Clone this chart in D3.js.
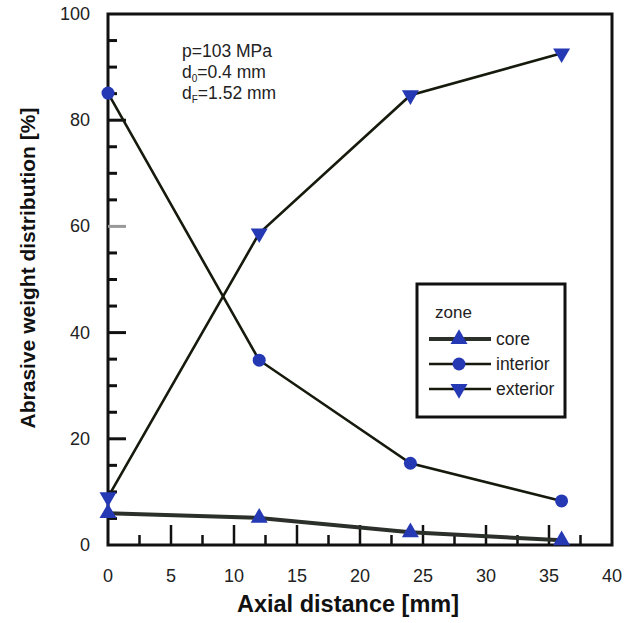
<!DOCTYPE html>
<html>
<head>
<meta charset="utf-8">
<script src="https://cdn.jsdelivr.net/npm/d3@7"></script>
<style>
  body { margin: 0; background: #fff; }
  svg text { font-family: "Liberation Sans", Arial, sans-serif; }
</style>
</head>
<body>
<div id="chart"></div>
<script>
// data
const distances = [0, 12, 24, 36];
const coreValues = [6.0, 5.1, 2.4, 0.9];
const interiorValues = [85.1, 34.8, 15.4, 8.3];
const exteriorValues = [9.0, 58.7, 84.7, 92.6];
const zoneNames = ['core', 'interior', 'exterior'];
const xTickValues = [0, 5, 10, 15, 20, 25, 30, 35, 40];
const yTickValues = [0, 20, 40, 60, 80, 100];
const annotationLines = ['p=103 MPa', 'd0=0.4 mm', 'dF=1.52 mm'];

const width = 634, height = 623;
const margin = { left: 108, right: 22, top: 14, bottom: 78 };

const svg = d3.select('#chart').append('svg')
    .attr('width', width)
    .attr('height', height);

const x = d3.scaleLinear().domain([0, 40]).range([margin.left, width - margin.right]);
const y = d3.scaleLinear().domain([0, 100]).range([height - margin.bottom, margin.top]);

const series = [
    { name: 'core', values: coreValues, symbol: 'up', stroke: '#2b302a', width: 4 },
    { name: 'interior', values: interiorValues, symbol: 'circle', stroke: '#151a0c', width: 2.6 },
    { name: 'exterior', values: exteriorValues, symbol: 'down', stroke: '#151a0c', width: 2.6 }
];

// frame
svg.append('rect')
    .attr('x', x(0)).attr('y', y(100))
    .attr('width', x(40) - x(0)).attr('height', y(0) - y(100))
    .attr('fill', 'none').attr('stroke', '#111').attr('stroke-width', 3);

// inner ticks, y axis (every 5, longer every 20)
d3.range(5, 100, 5).forEach(v => {
    const major = v % 20 === 0;
    svg.append('line')
        .attr('x1', x(0)).attr('x2', x(0) + (major ? 18 : 9))
        .attr('y1', y(v)).attr('y2', y(v))
        .attr('stroke', v === 60 ? '#999' : '#111').attr('stroke-width', 3);
});

// inner ticks, x axis (every 2.5, longer every 5)
d3.range(2.5, 40, 2.5).forEach(v => {
    const major = v % 5 === 0;
    svg.append('line')
        .attr('x1', x(v)).attr('x2', x(v))
        .attr('y1', y(0)).attr('y2', y(0) - (major ? 20 : 10))
        .attr('stroke', '#111').attr('stroke-width', 2.5);
});

// tick labels
svg.selectAll('.xlab').data(xTickValues).enter().append('text')
    .attr('x', d => x(d)).attr('y', 582)
    .attr('text-anchor', 'middle').attr('font-size', 18).attr('fill', '#222')
    .text(d => d);

svg.selectAll('.ylab').data(yTickValues).enter().append('text')
    .attr('x', 90).attr('y', d => y(d) + 6)
    .attr('text-anchor', 'end').attr('font-size', 18).attr('fill', '#222')
    .text(d => d);

// axis titles
svg.append('text')
    .attr('x', 348).attr('y', 612)
    .attr('text-anchor', 'middle').attr('font-size', 23.5).attr('font-weight', 'bold')
    .attr('fill', '#111')
    .text('Axial distance [mm]');

svg.append('text')
    .attr('transform', `translate(35, 268) rotate(-90)`)
    .attr('text-anchor', 'middle').attr('font-size', 21).attr('font-weight', 'bold')
    .attr('fill', '#111')
    .text('Abrasive weight distribution [%]');

// markers
const markerColor = '#2639b5';
function drawMarker(g, kind, cx, cy) {
    if (kind === 'circle') {
        g.append('circle').attr('cx', cx).attr('cy', cy).attr('r', 6.5).attr('fill', markerColor);
    } else {
        const sym = d3.symbol().type(d3.symbolTriangle).size(125);
        g.append('path')
            .attr('d', sym())
            .attr('transform', `translate(${cx},${cy}) rotate(${kind === 'down' ? 180 : 0})`)
            .attr('fill', markerColor);
    }
}

const line = d3.line().x(d => x(d[0])).y(d => y(d[1]));

series.forEach(s => {
    const pts = distances.map((d, i) => [d, s.values[i]]);
    svg.append('path')
        .datum(pts)
        .attr('d', line)
        .attr('fill', 'none')
        .attr('stroke', s.stroke)
        .attr('stroke-width', s.width);
});
series.forEach(s => {
    const g = svg.append('g');
    distances.forEach((d, i) => drawMarker(g, s.symbol, x(d), y(s.values[i])));
});

// annotation
const ann = svg.append('text').attr('font-size', 17.5).attr('fill', '#222');
ann.append('tspan').attr('x', 182).attr('y', 57).text(annotationLines[0]);
const l2 = ann.append('tspan').attr('x', 182).attr('y', 78);
l2.append('tspan').text('d');
l2.append('tspan').attr('font-size', 10).attr('dy', 4).text('0');
l2.append('tspan').attr('dy', -4).text('=0.4 mm');
const l3 = ann.append('tspan').attr('x', 182).attr('y', 99);
l3.append('tspan').text('d');
l3.append('tspan').attr('font-size', 10).attr('dy', 4).text('F');
l3.append('tspan').attr('dy', -4).text('=1.52 mm');

// legend
const legend = svg.append('g');
legend.append('rect')
    .attr('x', 417).attr('y', 284).attr('width', 148).attr('height', 133)
    .attr('fill', '#fff').attr('stroke', '#111').attr('stroke-width', 3);
legend.append('text')
    .attr('x', 435).attr('y', 318).attr('font-size', 17).attr('fill', '#222')
    .text('zone');
series.forEach((s, i) => {
    const ly = 339 + i * 25;
    legend.append('line')
        .attr('x1', 429).attr('x2', 491).attr('y1', ly).attr('y2', ly)
        .attr('stroke', s.stroke).attr('stroke-width', s.width);
    drawMarker(legend, s.symbol, 459, ly);
    legend.append('text')
        .attr('x', 496).attr('y', ly + 6).attr('font-size', 17.5).attr('fill', '#222')
        .text(zoneNames[i]);
});
</script>
</body>
</html>
